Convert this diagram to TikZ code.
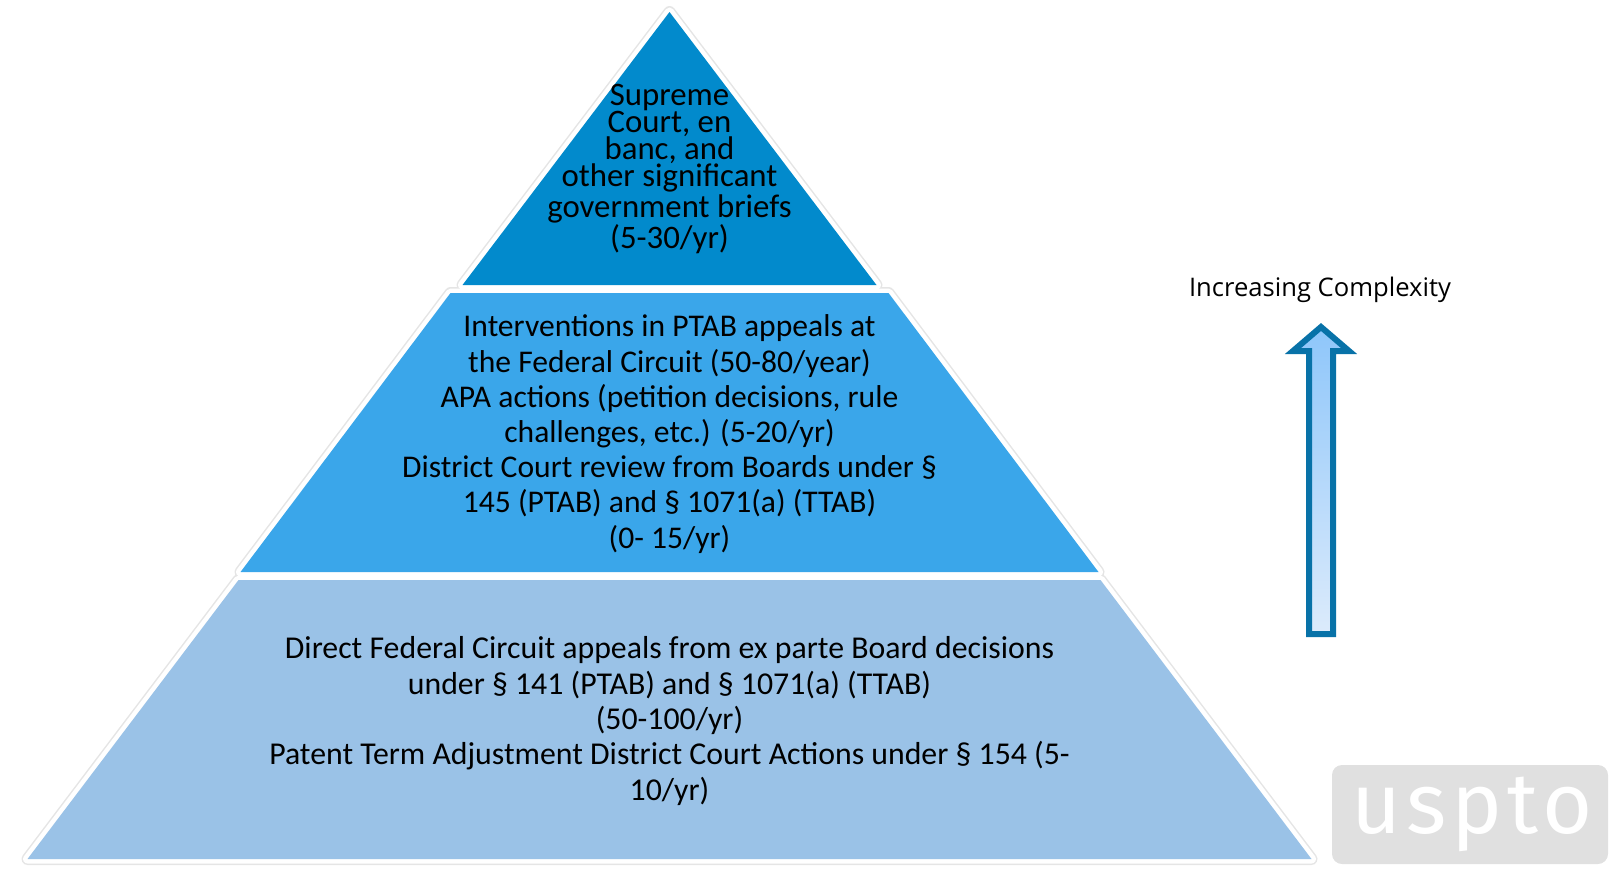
\documentclass[tikz,border=0pt]{standalone}
\usepackage{fontspec}
\setmainfont{Carlito}
\newfontfamily\labelfont{Open Sans}
\newfontfamily\logofont[LetterSpace=6]{Fira Sans}
\definecolor{topblue}{RGB}{2,138,204}
\definecolor{midblue}{RGB}{58,166,234}
\definecolor{lowblue}{RGB}{154,194,231}
\definecolor{arrowblue}{RGB}{8,114,168}
\definecolor{arrowtop}{RGB}{142,198,250}
\definecolor{arrowbot}{RGB}{220,235,251}
\definecolor{logogray}{RGB}{224,224,224}
\tikzstyle{tiertext}=[align=center,inner sep=0,text=black]
\tikzstyle{arrowbox}=[draw=arrowblue,line width=3pt,top color=arrowtop,bottom color=arrowbot]

\begin{document}
\begin{tikzpicture}[x=0.5pt,y=-0.5pt]
\useasboundingbox (0,0) rectangle (1612,868);

\coordinate (apex) at (669.5,12);
\coordinate (topL) at (462.5,285);
\coordinate (topR) at (876.5,285);
\coordinate (midTL) at (450.5,293);
\coordinate (midTR) at (888.5,293);
\coordinate (midBL) at (240.5,572);
\coordinate (midBR) at (1098.5,572);
\coordinate (lowTL) at (238.5,580);
\coordinate (lowTR) at (1100.5,580);
\coordinate (lowBL) at (27.5,859);
\coordinate (lowBR) at (1311.5,859);

\foreach \w/\c in {6pt/black!10,4.5pt/white}{
\draw[line width=\w,draw=\c,line join=round] (apex)--(topR)--(topL)--cycle;
\draw[line width=\w,draw=\c,line join=round] (midTL)--(midTR)--(midBR)--(midBL)--cycle;
\draw[line width=\w,draw=\c,line join=round] (lowTL)--(lowTR)--(lowBR)--(lowBL)--cycle;
}
\fill[topblue] (apex)--(topR)--(topL)--cycle;
\fill[midblue] (midTL)--(midTR)--(midBR)--(midBL)--cycle;
\fill[lowblue] (lowTL)--(lowTR)--(lowBR)--(lowBL)--cycle;

\node[tiertext,font=\fontsize{16.4}{13.6}\selectfont] (supreme) at (669.5,169)
 {Supreme\\ Court, en\\ banc, and\\ other significant\\ government briefs\\ (5-30/yr)};
\node[tiertext,font=\fontsize{15.8}{17.6}\selectfont] (ptab) at (669.5,434)
 {Interventions in PTAB appeals at\\ the Federal Circuit (50-80/year)\\
  APA actions (petition decisions, rule\\ challenges, etc.) (5-20/yr)\\
  District Court review from Boards under §\\ 145 (PTAB) and § 1071(a) (TTAB)\\ (0- 15/yr)};
\node[tiertext,font=\fontsize{15.9}{17.7}\selectfont] (fedcirc) at (669.5,721)
 {Direct Federal Circuit appeals from ex parte Board decisions\\
  under § 141 (PTAB) and § 1071(a) (TTAB)\\ (50-100/yr)\\
  Patent Term Adjustment District Court Actions under § 154 (5-\\ 10/yr)};

\node[font=\labelfont\fontsize{12.8}{15}\selectfont] (complexity) at (1320,290) {Increasing Complexity};
\path[arrowbox,line join=miter] (1321,327)--(1349,351)--(1333,351)--(1333,634)--(1309,634)--(1309,351)--(1293,351)--cycle;

\fill[logogray,rounded corners=5pt] (1332,765) rectangle (1608,864);
\node[anchor=base,text=white,font=\logofont\fontsize{43}{43}\selectfont] (uspto) at (1472,833) {uspto};
\end{tikzpicture}
\end{document}
